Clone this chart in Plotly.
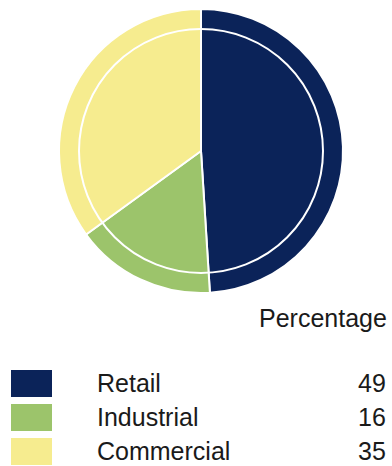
import plotly.graph_objects as go

# Share by property type
categories = ["Retail", "Industrial", "Commercial"]
percentages = [49, 16, 35]
colors = ["#0b2359", "#9cc46b", "#f6ec8f"]
header = "Percentage"

W, H = 392, 466


def px(x):
    return x / W


def py(y):
    return 1 - y / H


cx, cy, r = 201, 151, 142
r_inner = 122

fig = go.Figure(
    go.Pie(
        labels=categories,
        values=percentages,
        marker=dict(colors=colors, line=dict(color="white", width=2)),
        sort=False,
        direction="clockwise",
        rotation=0,
        textinfo="none",
        hoverinfo="label+value",
        showlegend=False,
        domain=dict(x=[px(cx - r), px(cx + r)], y=[py(cy + r), py(cy - r)]),
    )
)

shapes = [
    dict(
        type="circle", xref="paper", yref="paper",
        x0=px(cx - r_inner), x1=px(cx + r_inner),
        y0=py(cy + r_inner), y1=py(cy - r_inner),
        line=dict(color="white", width=2),
    )
]

text_font = dict(size=25, color="#1a1a1a")

annotations = [
    dict(
        text=header, xref="paper", yref="paper",
        x=px(389), y=py(318), xanchor="right", yanchor="middle",
        showarrow=False, font=text_font,
    )
]

row_top = [370, 404, 438]
for i, (cat, val, col) in enumerate(zip(categories, percentages, colors)):
    top = row_top[i]
    shapes.append(
        dict(
            type="rect", xref="paper", yref="paper",
            x0=px(11), x1=px(52), y0=py(top + 27), y1=py(top),
            fillcolor=col, line=dict(width=0),
        )
    )
    annotations.append(
        dict(
            text=cat, xref="paper", yref="paper",
            x=px(95), y=py(top + 13), xanchor="left", yanchor="middle",
            showarrow=False, font=text_font,
        )
    )
    annotations.append(
        dict(
            text=str(val), xref="paper", yref="paper",
            x=px(388), y=py(top + 13), xanchor="right", yanchor="middle",
            showarrow=False, font=text_font,
        )
    )

fig.update_layout(
    width=W, height=H,
    margin=dict(l=0, r=0, t=0, b=0),
    paper_bgcolor="white",
    plot_bgcolor="white",
    font=dict(family="Liberation Sans, Arial, sans-serif"),
    shapes=shapes,
    annotations=annotations,
)

fig.write_html("out.html")
